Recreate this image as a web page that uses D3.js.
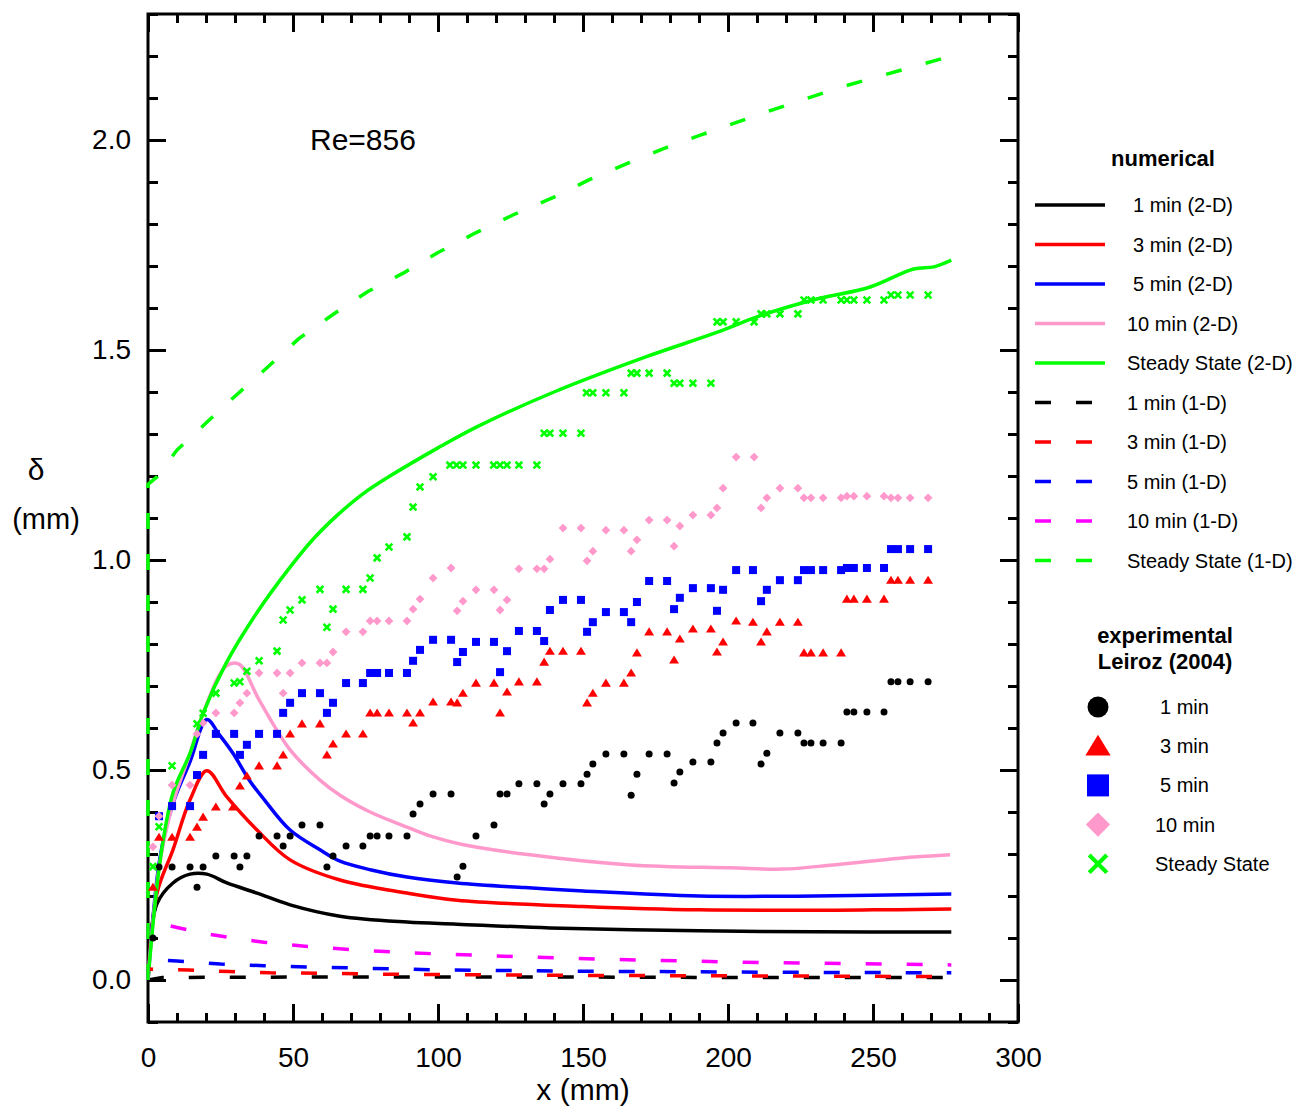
<!DOCTYPE html>
<html>
<head>
<meta charset="utf-8">
<script src="https://cdn.jsdelivr.net/npm/d3@7"></script>
<style>
  body { margin: 0; background: #fff; }
  text { font-family: "Liberation Sans", Arial, sans-serif; }
</style>
</head>
<body>
<script>
// ---- numerical, 2-D model (x mm, delta mm)
const num2d_1min = [[0,0],[3,0.18],[8.6,0.231],[14.5,0.252],[20.3,0.252],[27.2,0.231],[37.6,0.207],[49,0.179],[66.2,0.152],[89.3,0.138],[106.6,0.133],[138.6,0.124],[190,0.117],[230,0.115],[277,0.114]];
const num2d_3min = [[0,0],[3.1,0.207],[8.6,0.31],[14.5,0.429],[20.3,0.498],[27.2,0.436],[37.6,0.357],[49,0.286],[66.2,0.238],[89.3,0.207],[106.6,0.19],[150,0.175],[190,0.167],[250,0.167],[277,0.169]];
const num2d_5min = [[0,0],[4.1,0.29],[8.6,0.42],[14.5,0.52],[20.3,0.62],[24.5,0.585],[29.3,0.54],[35,0.475],[40,0.43],[49,0.357],[59.3,0.31],[66.2,0.283],[77,0.262],[89.3,0.245],[106.6,0.231],[130,0.22],[150,0.212],[190,0.2],[230,0.2],[277,0.205]];
const num2d_10min = [[0,0],[4.1,0.28],[8.6,0.42],[14.5,0.54],[19,0.635],[27,0.748],[31.4,0.752],[38.3,0.667],[49,0.548],[59.3,0.476],[66.2,0.44],[76.6,0.4],[89.3,0.364],[97.2,0.343],[107.6,0.324],[131.7,0.298],[166.2,0.274],[200.7,0.267],[219,0.264],[236.2,0.274],[259.3,0.29],[276.6,0.298]];
const num2d_steady = [[0,0],[4.1,0.28],[8.6,0.445],[14.5,0.54],[19,0.635],[27,0.755],[37.6,0.875],[49,0.983],[57,1.05],[65.5,1.108],[74,1.157],[83,1.198],[100,1.267],[113.4,1.317],[140,1.4],[171.4,1.483],[196.6,1.543],[210,1.579],[229.3,1.619],[249,1.65],[264,1.693],[271,1.698],[277,1.714]];

// ---- numerical, 1-D model
const num1d_1min = [[0,0],[5,0.006],[50,0.007],[150,0.007],[200,0.006],[277,0.006]];
const num1d_3min = [[0,0],[0,0.026],[14,0.024],[28,0.02],[42,0.017],[60,0.016],[80,0.014],[100,0.013],[150,0.011],[200,0.01],[277,0.008]];
const num1d_5min = [[0,0],[0,0.05],[10,0.045],[25,0.038],[40,0.034],[55,0.031],[75,0.028],[100,0.024],[150,0.021],[200,0.019],[277,0.017]];
const num1d_10min = [[0,0],[0,0.14],[5,0.133],[10,0.125],[20,0.11],[30,0.099],[40,0.09],[55,0.08],[75,0.07],[100,0.062],[130,0.055],[160,0.049],[200,0.043],[240,0.039],[277,0.036]];
const num1d_steady = [[0,0],[0,1.18],[3.1,1.198],[10,1.262],[20,1.326],[30,1.39],[41.4,1.46],[52,1.527],[64.5,1.588],[76,1.64],[88,1.683],[100,1.732],[113,1.779],[126,1.822],[140,1.864],[152,1.905],[165.5,1.945],[178,1.98],[190.7,2.012],[212,2.064],[239,2.126],[258,2.163],[277,2.2]];

// ---- experimental, Leiroz (2004)
const exp_1min = [[1.7,0.1],[3.8,0.269],[8.3,0.269],[14.5,0.269],[16.9,0.221],[19,0.269],[23.4,0.295],[29.7,0.295],[31.7,0.269],[34.1,0.295],[38.3,0.343],[44.5,0.343],[46.6,0.319],[49,0.343],[53.1,0.369],[59.3,0.369],[61.7,0.269],[63.8,0.295],[68.3,0.319],[74.1,0.319],[76.6,0.343],[79,0.343],[83.1,0.343],[89.3,0.343],[91.4,0.395],[93.8,0.419],[98.3,0.443],[104.5,0.443],[106.6,0.245],[108.6,0.271],[113.1,0.343],[119.3,0.369],[121.4,0.443],[123.8,0.443],[127.9,0.467],[134.1,0.467],[136.6,0.419],[138.6,0.443],[143.1,0.467],[149.3,0.467],[151.4,0.49],[153.4,0.514],[157.9,0.538],[164.1,0.538],[166.6,0.44],[168.6,0.49],[172.8,0.538],[179,0.538],[181.4,0.469],[183.4,0.495],[187.9,0.519],[194.1,0.519],[196.2,0.564],[198.3,0.588],[202.8,0.612],[208.6,0.612],[211.4,0.514],[213.4,0.54],[217.9,0.588],[224.1,0.588],[226.2,0.564],[228.6,0.564],[232.8,0.564],[239,0.564],[241,0.638],[243.4,0.638],[247.9,0.638],[253.8,0.638],[256.2,0.71],[258.6,0.71],[262.8,0.71],[269,0.71]];
const exp_3min = [[1.7,0.221],[3.8,0.34],[8.3,0.34],[14.5,0.34],[16.9,0.364],[19,0.388],[23.4,0.412],[29.3,0.412],[31.7,0.462],[34.1,0.486],[38.3,0.51],[44.5,0.51],[46.6,0.536],[49,0.586],[53.1,0.61],[59.3,0.61],[61.7,0.536],[63.8,0.562],[68.3,0.586],[74.1,0.586],[76.6,0.636],[79,0.636],[83.1,0.636],[89.3,0.636],[91.4,0.612],[93.8,0.636],[98.3,0.662],[104.5,0.662],[106.6,0.66],[108.6,0.683],[113.1,0.707],[119.3,0.707],[121.4,0.636],[123.8,0.686],[127.9,0.71],[134.1,0.71],[136.6,0.757],[138.6,0.783],[143.1,0.783],[149.3,0.783],[151.4,0.66],[153.4,0.683],[157.9,0.707],[164.1,0.707],[166.6,0.731],[168.6,0.779],[172.8,0.829],[179,0.829],[181.4,0.762],[183.4,0.812],[187.9,0.836],[194.1,0.836],[196.2,0.781],[198.3,0.805],[202.8,0.855],[208.6,0.852],[211.4,0.805],[213.4,0.829],[217.9,0.852],[224.1,0.852],[226.2,0.779],[228.6,0.779],[232.8,0.779],[239,0.779],[241,0.907],[243.4,0.907],[247.9,0.907],[253.8,0.907],[256.2,0.952],[258.6,0.952],[262.8,0.952],[269,0.952]];
const exp_5min = [[3.8,0.39],[8.3,0.414],[14.5,0.414],[16.9,0.488],[19,0.536],[23.4,0.586],[29.7,0.586],[31.7,0.536],[34.1,0.56],[38.3,0.586],[44.5,0.586],[46.6,0.636],[49,0.66],[53.1,0.683],[59.3,0.683],[61.7,0.636],[63.8,0.66],[68.3,0.707],[74.1,0.707],[76.6,0.731],[79,0.731],[83.1,0.731],[89.3,0.731],[91.4,0.76],[93.8,0.786],[98.3,0.81],[104.5,0.81],[106.6,0.757],[108.6,0.781],[113.1,0.805],[119.3,0.805],[121.4,0.733],[123.8,0.783],[127.9,0.831],[134.1,0.831],[136.6,0.807],[138.6,0.881],[143.1,0.905],[149.3,0.905],[151.4,0.829],[153.4,0.852],[157.9,0.876],[164.1,0.876],[166.6,0.852],[168.6,0.9],[172.8,0.95],[179,0.95],[181.4,0.883],[183.4,0.91],[187.9,0.933],[194.1,0.933],[196.2,0.879],[198.3,0.929],[202.8,0.976],[208.6,0.976],[211.4,0.902],[213.4,0.929],[217.9,0.952],[224.1,0.952],[226.2,0.976],[228.6,0.976],[232.8,0.976],[239,0.976],[241,0.981],[243.4,0.981],[247.9,0.981],[253.8,0.981],[256.2,1.026],[258.6,1.026],[262.8,1.026],[269,1.026]];
const exp_10min = [[1.7,0.317],[3.8,0.39],[8.3,0.464],[14.5,0.464],[16.9,0.586],[19,0.612],[23.4,0.636],[29.7,0.636],[31.7,0.66],[34.1,0.683],[38.3,0.731],[44.5,0.731],[46.6,0.683],[49,0.731],[53.1,0.755],[59.3,0.755],[61.7,0.755],[63.8,0.781],[68.3,0.829],[74.1,0.829],[76.6,0.855],[79,0.855],[83.1,0.855],[89.3,0.855],[91.4,0.883],[93.8,0.907],[98.3,0.957],[104.5,0.981],[106.6,0.879],[108.6,0.902],[113.1,0.929],[119.3,0.929],[121.4,0.881],[123.8,0.905],[127.9,0.979],[134.1,0.979],[136.6,0.979],[138.6,1.002],[143.1,1.076],[149.3,1.076],[151.4,0.998],[153.4,1.021],[157.9,1.071],[164.1,1.071],[166.6,1.021],[168.6,1.048],[172.8,1.095],[179,1.095],[181.4,1.033],[183.4,1.081],[187.9,1.107],[194.1,1.107],[196.2,1.124],[198.3,1.171],[202.8,1.245],[209,1.245],[211.4,1.124],[213.4,1.148],[217.9,1.171],[224.1,1.171],[226.2,1.148],[228.6,1.148],[232.8,1.148],[239,1.148],[241,1.152],[243.4,1.152],[247.9,1.152],[253.8,1.152],[256.2,1.148],[258.6,1.148],[262.8,1.148],[269,1.148]];
const exp_steady = [[1.7,0.27],[3.8,0.365],[8.3,0.51],[16.9,0.61],[19,0.635],[23.4,0.683],[29.7,0.707],[31.7,0.71],[34.1,0.735],[38.3,0.76],[44.5,0.783],[46.6,0.857],[49,0.881],[53.1,0.905],[59.3,0.93],[61.7,0.84],[63.8,0.883],[68.3,0.93],[74.1,0.93],[76.6,0.957],[79,1.005],[83.1,1.031],[89.3,1.055],[91.4,1.126],[93.8,1.174],[98.3,1.198],[104.1,1.226],[106.4,1.226],[108.6,1.226],[113.1,1.226],[119.2,1.226],[121.4,1.226],[123.8,1.226],[127.9,1.226],[134.1,1.226],[136.6,1.302],[138.6,1.302],[143.1,1.302],[149.3,1.302],[151.2,1.398],[153.4,1.398],[157.9,1.398],[164.1,1.398],[166.6,1.445],[168.6,1.445],[172.8,1.445],[179,1.445],[181.4,1.421],[183.4,1.421],[187.9,1.421],[194.1,1.421],[196.2,1.567],[198.3,1.567],[202.8,1.567],[209,1.567],[211.4,1.586],[213.4,1.586],[217.9,1.586],[224.1,1.586],[226.2,1.619],[228.6,1.619],[232.8,1.619],[239,1.619],[241,1.619],[243.4,1.619],[247.9,1.619],[253.8,1.619],[256.2,1.631],[258.6,1.631],[262.8,1.631],[269,1.631]];

const xTicksMajor = [0, 50, 100, 150, 200, 250, 300];
const yTicksMajor = [0.0, 0.5, 1.0, 1.5, 2.0];

const lineSeries = [
  { name: "1 min (2-D)", data: num2d_1min, color: "#000000", dash: null },
  { name: "3 min (2-D)", data: num2d_3min, color: "#ff0000", dash: null },
  { name: "5 min (2-D)", data: num2d_5min, color: "#0000ff", dash: null },
  { name: "10 min (2-D)", data: num2d_10min, color: "#ff99cc", dash: null },
  { name: "Steady State (2-D)", data: num2d_steady, color: "#00ff00", dash: null },
  { name: "1 min (1-D)", data: num1d_1min, color: "#000000", dash: "16,25" },
  { name: "3 min (1-D)", data: num1d_3min, color: "#ff0000", dash: "16,25" },
  { name: "5 min (1-D)", data: num1d_5min, color: "#0000ff", dash: "16,25" },
  { name: "10 min (1-D)", data: num1d_10min, color: "#ff00ff", dash: "16,25" },
  { name: "Steady State (1-D)", data: num1d_steady, color: "#00ff00", dash: "16,25" }
];
const legendLabelX = [1133, 1133, 1133, 1127, 1127, 1127, 1127, 1127, 1127, 1127];

const pointSeries = [
  { name: "1 min", data: exp_1min, color: "#000000", shape: "circle" },
  { name: "3 min", data: exp_3min, color: "#ff0000", shape: "triangle" },
  { name: "5 min", data: exp_5min, color: "#0000ff", shape: "square" },
  { name: "10 min", data: exp_10min, color: "#ff99cc", shape: "diamond" },
  { name: "Steady State", data: exp_steady, color: "#00ff00", shape: "cross" }
];
const pointLabelX = [1160, 1160, 1160, 1155, 1155];

const width = 1292, height = 1106;
const plotL = 148, plotR = 1018, plotT = 14, plotB = 1022;

const svg = d3.select("body").append("svg")
  .attr("width", width)
  .attr("height", height);

const x = d3.scaleLinear().domain([0, 300]).range([plotL, plotR]);
const y = d3.scaleLinear().domain([-0.1, 2.3]).range([plotB, plotT]);

// frame and axes first, so the curves that run along x = 0 stay visible on top
svg.append("rect")
  .attr("x", plotL).attr("y", plotT)
  .attr("width", plotR - plotL).attr("height", plotB - plotT)
  .attr("fill", "none").attr("stroke", "#000").attr("stroke-width", 3);

const xMinor = d3.range(0, 301, 10);
const yMinor = d3.range(-0.1, 2.31, 0.1).map(v => +v.toFixed(1));

function axisGroup(axis, tr) {
  const g = svg.append("g").attr("transform", tr).call(axis);
  g.select(".domain").remove();
  g.selectAll("line").attr("stroke", "#000").attr("stroke-width", 3);
  return g;
}

axisGroup(d3.axisBottom(x).tickValues(xMinor).tickSize(-9).tickFormat(""), `translate(0,${plotB})`);
axisGroup(d3.axisTop(x).tickValues(xMinor).tickSize(-9).tickFormat(""), `translate(0,${plotT})`);
axisGroup(d3.axisLeft(y).tickValues(yMinor).tickSize(-10).tickFormat(""), `translate(${plotL},0)`);
axisGroup(d3.axisRight(y).tickValues(yMinor).tickSize(-10).tickFormat(""), `translate(${plotR},0)`);

const xMaj = axisGroup(d3.axisBottom(x).tickValues(xTicksMajor).tickSize(-18).tickPadding(25).tickFormat(d3.format("d")), `translate(0,${plotB})`);
axisGroup(d3.axisTop(x).tickValues(xTicksMajor).tickSize(-18).tickFormat(""), `translate(0,${plotT})`);
const yMaj = axisGroup(d3.axisLeft(y).tickValues(yTicksMajor).tickSize(-18).tickPadding(17).tickFormat(d3.format(".1f")), `translate(${plotL},0)`);
axisGroup(d3.axisRight(y).tickValues(yTicksMajor).tickSize(-18).tickFormat(""), `translate(${plotR},0)`);

xMaj.selectAll("text").attr("font-size", 28).attr("fill", "#000").attr("font-family", "Liberation Sans, Arial, sans-serif");
yMaj.selectAll("text").attr("font-size", 28).attr("fill", "#000").attr("font-family", "Liberation Sans, Arial, sans-serif");

// smooth curves for the 2-D results, straight pieces for the 1-D ones (they start with a vertical jump at x = 0)
const smoothLine = d3.line()
  .curve(d3.curveCatmullRom.alpha(0.5))
  .x(d => x(d[0]))
  .y(d => y(d[1]));
const plainLine = d3.line()
  .x(d => x(d[0]))
  .y(d => y(d[1]));

svg.append("g").selectAll("path")
  .data(lineSeries)
  .join("path")
  .attr("d", d => d.dash ? plainLine(d.data) : smoothLine(d.data))
  .attr("fill", "none")
  .attr("stroke", d => d.color)
  .attr("stroke-width", 3.5)
  .attr("stroke-linejoin", "round")
  .attr("stroke-dasharray", d => d.dash);

// marker drawing
function drawMarker(g, shape, color, s) {
  if (shape === "circle") {
    g.append("circle").attr("r", s / 2).attr("fill", color);
  } else if (shape === "triangle") {
    g.append("path").attr("d", `M0,${-s * 0.5}L${s * 0.55},${s * 0.4}L${-s * 0.55},${s * 0.4}Z`).attr("fill", color);
  } else if (shape === "square") {
    g.append("rect").attr("x", -s / 2).attr("y", -s / 2).attr("width", s).attr("height", s).attr("fill", color);
  } else if (shape === "diamond") {
    g.append("path").attr("d", `M0,${-s * 0.55}L${s * 0.55},0L0,${s * 0.55}L${-s * 0.55},0Z`).attr("fill", color);
  } else if (shape === "cross") {
    const h = s * 0.42;
    g.append("path").attr("d", `M${-h},${-h}L${h},${h}M${-h},${h}L${h},${-h}`)
      .attr("stroke", color).attr("stroke-width", Math.max(2.6, s * 0.2)).attr("fill", "none");
  }
}

const plotSizes = { circle: 7, triangle: 9, square: 8, diamond: 8, cross: 8 };

pointSeries.forEach(ser => {
  const g = svg.append("g");
  ser.data.forEach(p => {
    const m = g.append("g").attr("transform", `translate(${x(p[0])},${y(p[1])})`);
    drawMarker(m, ser.shape, ser.color, plotSizes[ser.shape]);
  });
});

// titles
svg.append("text").attr("x", 583).attr("y", 1100).attr("text-anchor", "middle")
  .attr("font-size", 30).text("x (mm)");
svg.append("text").attr("x", 36).attr("y", 480).attr("text-anchor", "middle")
  .attr("font-size", 30).attr("font-family", "Liberation Serif, serif").text("δ");
svg.append("text").attr("x", 46).attr("y", 529).attr("text-anchor", "middle")
  .attr("font-size", 29).text("(mm)");
svg.append("text").attr("x", 310).attr("y", 150)
  .attr("font-size", 30).text("Re=856");

// legend: numerical
svg.append("text").attr("x", 1163).attr("y", 166).attr("text-anchor", "middle")
  .attr("font-size", 22).attr("font-weight", "bold").text("numerical");

const legRowY = i => 205 + i * 39.5;
const leg = svg.append("g");
lineSeries.forEach((s, i) => {
  const yy = legRowY(i);
  leg.append("line")
    .attr("x1", 1035).attr("x2", s.dash ? 1092 : 1105)
    .attr("y1", yy).attr("y2", yy)
    .attr("stroke", s.color).attr("stroke-width", 3.5)
    .attr("stroke-dasharray", s.dash);
  leg.append("text").attr("x", legendLabelX[i]).attr("y", yy + 7)
    .attr("font-size", 20).text(s.name);
});

// legend: experimental
svg.append("text").attr("x", 1165).attr("y", 643).attr("text-anchor", "middle")
  .attr("font-size", 22).attr("font-weight", "bold").text("experimental");
svg.append("text").attr("x", 1165).attr("y", 669).attr("text-anchor", "middle")
  .attr("font-size", 22).attr("font-weight", "bold").text("Leiroz (2004)");

const legSizes = { circle: 21, triangle: 23, square: 22, diamond: 22, cross: 21 };
pointSeries.forEach((s, i) => {
  const yy = 707 + i * 39.2;
  const m = svg.append("g").attr("transform", `translate(1098,${yy})`);
  drawMarker(m, s.shape, s.color, legSizes[s.shape]);
  svg.append("text").attr("x", pointLabelX[i]).attr("y", yy + 7)
    .attr("font-size", 20).text(s.name);
});
</script>
</body>
</html>
